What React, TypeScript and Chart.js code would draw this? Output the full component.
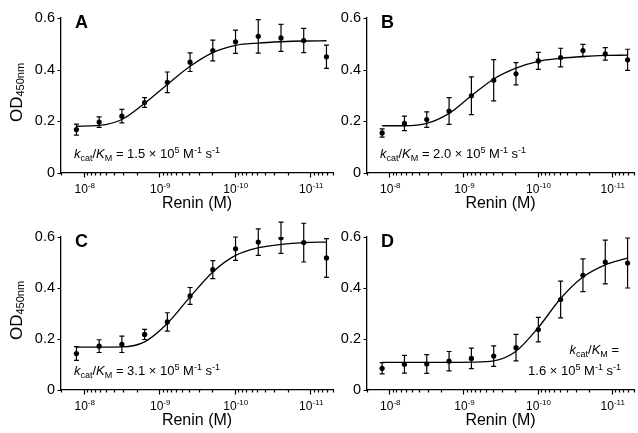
import React, { useEffect, useRef } from 'react';
import { Chart, registerables } from 'chart.js';
Chart.register(...registerables);

// Renin concentration (M), 2-fold dilution series
const reninM = [1.25e-8, 6.25e-9, 3.125e-9, 1.5625e-9, 7.8125e-10, 3.90625e-10, 1.953125e-10, 9.765625e-11, 4.8828125e-11, 2.44140625e-11, 1.220703125e-11, 6.103515625e-12];

// Panel A
const odA = [0.168, 0.197, 0.220, 0.273, 0.351, 0.429, 0.474, 0.508, 0.529, 0.523, 0.513, 0.450];
const errA = [0.021, 0.020, 0.026, 0.019, 0.040, 0.036, 0.040, 0.045, 0.065, 0.052, 0.047, 0.045];
const fitA = [0.181, 0.184, 0.207, 0.270, 0.343, 0.413, 0.466, 0.494, 0.503, 0.508, 0.511, 0.512];
// Panel B
const odB = [0.155, 0.192, 0.207, 0.240, 0.299, 0.359, 0.384, 0.434, 0.447, 0.474, 0.461, 0.438];
const errB = [0.016, 0.028, 0.030, 0.052, 0.073, 0.080, 0.043, 0.033, 0.036, 0.024, 0.024, 0.041];
const fitB = [0.183, 0.183, 0.192, 0.231, 0.299, 0.364, 0.406, 0.432, 0.444, 0.451, 0.455, 0.456];
// Panel C
const odC = [0.143, 0.172, 0.179, 0.218, 0.267, 0.369, 0.472, 0.554, 0.580, 0.597, 0.578, 0.518];
const errC = [0.027, 0.025, 0.032, 0.020, 0.036, 0.033, 0.035, 0.046, 0.052, 0.061, 0.076, 0.076];
const fitC = [0.168, 0.168, 0.169, 0.189, 0.261, 0.365, 0.463, 0.528, 0.558, 0.571, 0.578, 0.580];
// Panel D
const odD = [0.085, 0.101, 0.102, 0.113, 0.124, 0.133, 0.166, 0.237, 0.355, 0.450, 0.502, 0.498];
const errD = [0.022, 0.035, 0.037, 0.038, 0.040, 0.040, 0.052, 0.048, 0.072, 0.064, 0.086, 0.098];
const fitD = [0.108, 0.108, 0.108, 0.108, 0.109, 0.114, 0.152, 0.245, 0.359, 0.443, 0.491, 0.517];

const panelLetters = ['A', 'B', 'C', 'D'];
const kcatKmValues = ['1.5', '2.0', '3.1', '1.6'];

// Axes
const xMin = 5e-12;
const xMax = 2e-8;
const xMajorTicks = [1e-8, 1e-9, 1e-10, 1e-11];
const xMajorExponents = ['-8', '-9', '-10', '-11'];
const xMinorMultipliers = [2, 3, 4, 5, 6, 7, 8, 9];
const xMinorDecades = [1e-12, 1e-11, 1e-10, 1e-9, 1e-8];
const yTicks = [0, 0.2, 0.4, 0.6];
const yTickLabels = ['0', '0.2', '0.4', '0.6'];

const FONT = '"Liberation Sans", Arial, Helvetica, sans-serif';
const INK = '#000';

type Run = { t: string; size: number; italic?: boolean; bold?: boolean; dy?: number };
const fontOf = (r: Run) => `${r.italic ? 'italic ' : ''}${r.bold ? 'bold ' : ''}${r.size}px ${FONT}`;

function drawRuns(ctx: CanvasRenderingContext2D, runs: Run[], x: number, y: number, align: 'left' | 'center' | 'right') {
  let w = 0;
  for (const r of runs) { ctx.font = fontOf(r); w += ctx.measureText(r.t).width; }
  let cx = align === 'left' ? x : align === 'center' ? x - w / 2 : x - w;
  ctx.textAlign = 'left';
  ctx.textBaseline = 'alphabetic';
  for (const r of runs) {
    ctx.font = fontOf(r);
    ctx.fillText(r.t, cx, y + (r.dy || 0));
    cx += ctx.measureText(r.t).width;
  }
}

const kLabelRuns = (): Run[] => [
  { t: 'k', size: 13, italic: true },
  { t: 'cat', size: 9, dy: 3 },
  { t: '/', size: 13 },
  { t: 'K', size: 13, italic: true },
  { t: 'M', size: 9, dy: 3 },
];
const kValueRuns = (v: string): Run[] => [
  { t: `${v} × 10`, size: 13 },
  { t: '5', size: 9, dy: -5 },
  { t: ' M', size: 13 },
  { t: '-1', size: 9, dy: -5 },
  { t: ' s', size: 13 },
  { t: '-1', size: 9, dy: -5 },
];

type Panel = {
  letter: string; od: number[]; err: number[]; fit: number[]; kcat: string;
  left: number; top: number; w: number; h: number; padT: number; padR: number; yW: number; xH: number;
  yTitle: boolean; twoLine: boolean;
};

const panels: Panel[] = [
  { letter: panelLetters[0], od: odA, err: errA, fit: fitA, kcat: kcatKmValues[0], left: 0, top: 0, w: 340, h: 216, padT: 18, padR: 7, yW: 61, xH: 43, yTitle: true, twoLine: false },
  { letter: panelLetters[1], od: odB, err: errB, fit: fitB, kcat: kcatKmValues[1], left: 300, top: 0, w: 338, h: 216, padT: 18, padR: 0, yW: 67, xH: 43, yTitle: false, twoLine: false },
  { letter: panelLetters[2], od: odC, err: errC, fit: fitC, kcat: kcatKmValues[2], left: 0, top: 216, w: 340, h: 217, padT: 21, padR: 7, yW: 61, xH: 43, yTitle: true, twoLine: false },
  { letter: panelLetters[3], od: odD, err: errD, fit: fitD, kcat: kcatKmValues[3], left: 300, top: 216, w: 338, h: 217, padT: 21, padR: 0, yW: 67, xH: 43, yTitle: false, twoLine: true },
];

function buildXTicks() {
  const ticks: { value: number; major: boolean }[] = [];
  for (const d of xMinorDecades) {
    for (const m of xMinorMultipliers) {
      const v = m * d;
      if (v >= xMin && v <= xMax) ticks.push({ value: v, major: false });
    }
  }
  for (const v of xMajorTicks) ticks.push({ value: v, major: true });
  return ticks;
}

function makeDeco(p: Panel) {
  return {
    id: 'deco' + p.letter,
    beforeDatasetsDraw(chart: any) {
      const ctx = chart.ctx as CanvasRenderingContext2D;
      const xs = chart.scales.x, ys = chart.scales.y;
      ctx.save();
      ctx.strokeStyle = INK;
      ctx.lineWidth = 1.2;
      reninM.forEach((c, i) => {
        const x = xs.getPixelForValue(c);
        const y1 = ys.getPixelForValue(p.od[i] - p.err[i]);
        const y2 = ys.getPixelForValue(p.od[i] + p.err[i]);
        ctx.beginPath();
        ctx.moveTo(x, y1); ctx.lineTo(x, y2);
        ctx.moveTo(x - 2.5, y1); ctx.lineTo(x + 2.5, y1);
        ctx.moveTo(x - 2.5, y2); ctx.lineTo(x + 2.5, y2);
        ctx.stroke();
      });
      ctx.restore();
    },
    afterDraw(chart: any) {
      const ctx = chart.ctx as CanvasRenderingContext2D;
      const xs = chart.scales.x, ys = chart.scales.y;
      const a = chart.chartArea;
      ctx.save();
      ctx.strokeStyle = INK;
      ctx.fillStyle = INK;
      ctx.lineWidth = 1.2;
      // x tick marks
      ctx.beginPath();
      for (const t of xs.ticks) {
        const x = Math.round(xs.getPixelForValue(t.value)) + 0.5;
        ctx.moveTo(x, a.bottom);
        ctx.lineTo(x, a.bottom + (t.major ? 4.5 : 2.5));
      }
      // y tick marks
      for (const t of ys.ticks) {
        const y = Math.round(ys.getPixelForValue(t.value)) + 0.5;
        ctx.moveTo(a.left, y);
        ctx.lineTo(a.left - 3.5, y);
      }
      ctx.stroke();
      // x tick labels
      xMajorTicks.forEach((v, i) => {
        const x = xs.getPixelForValue(v);
        drawRuns(ctx, [{ t: '10', size: 12 }, { t: xMajorExponents[i], size: 8, dy: -5 }], x + 1, a.bottom + 20, 'center');
      });
      // x title
      drawRuns(ctx, [{ t: 'Renin (M)', size: 16 }], (a.left + a.right) / 2, a.bottom + 35, 'center');
      // y title
      if (p.yTitle) {
        ctx.save();
        ctx.translate(22, (a.top + a.bottom) / 2 - 3);
        ctx.rotate(-Math.PI / 2);
        drawRuns(ctx, [{ t: 'OD', size: 17 }, { t: '450nm', size: 11, dy: 1.5 }], 0, 0, 'center');
        ctx.restore();
      }
      // panel letter
      drawRuns(ctx, [{ t: p.letter, size: 18, bold: true }], a.left + 14, a.top + 10, 'left');
      // kcat/KM annotation
      if (p.twoLine) {
        drawRuns(ctx, [...kLabelRuns(), { t: ' =', size: 13 }], a.right - 15, a.bottom - 36, 'right');
        drawRuns(ctx, kValueRuns(p.kcat), a.right - 13, a.bottom - 15, 'right');
      } else {
        drawRuns(ctx, [...kLabelRuns(), { t: ' = ', size: 13 }, ...kValueRuns(p.kcat)], a.left + 13, a.bottom - 15, 'left');
      }
      ctx.restore();
    },
  };
}

function PanelChart({ p }: { p: Panel }) {
  const ref = useRef<HTMLCanvasElement | null>(null);
  useEffect(() => {
    if (!ref.current) return;
    const chart = new Chart(ref.current, {
      type: 'scatter',
      data: {
        datasets: [
          {
            label: 'fit',
            data: reninM.map((c, i) => ({ x: c, y: p.fit[i] })),
            showLine: true,
            borderColor: INK,
            borderWidth: 1.3,
            pointRadius: 0,
            cubicInterpolationMode: 'monotone',
            order: 2,
          } as any,
          {
            label: 'OD450',
            data: reninM.map((c, i) => ({ x: c, y: p.od[i] })),
            showLine: false,
            pointRadius: 2.6,
            pointBackgroundColor: INK,
            pointBorderColor: INK,
            pointBorderWidth: 0,
            order: 1,
          } as any,
        ],
      },
      options: {
        responsive: false,
        animation: false,
        events: [],
        layout: { padding: { left: 0, right: p.padR, top: p.padT, bottom: 0 } },
        plugins: { legend: { display: false }, tooltip: { enabled: false }, title: { display: false } },
        scales: {
          x: {
            type: 'logarithmic',
            reverse: true,
            min: xMin,
            max: xMax,
            bounds: 'data',
            afterBuildTicks: (scale: any) => { scale.ticks = buildXTicks(); },
            afterFit: (scale: any) => { scale.height = p.xH; },
            ticks: { display: false },
            grid: { display: false, drawTicks: false },
            border: { display: true, color: INK, width: 1.3 },
          },
          y: {
            type: 'linear',
            min: 0,
            max: 0.6,
            afterBuildTicks: (scale: any) => { scale.ticks = yTicks.map((v) => ({ value: v })); },
            afterFit: (scale: any) => { scale.width = p.yW; },
            ticks: {
              padding: 6,
              color: INK,
              font: { family: FONT, size: 14.5 },
              callback: (_v: any, i: number) => yTickLabels[i],
            },
            grid: { display: false, drawTicks: false },
            border: { display: true, color: INK, width: 1.3 },
          },
        },
      } as any,
      plugins: [makeDeco(p)],
    });
    return () => chart.destroy();
  }, [p]);
  return (
    <canvas
      ref={ref}
      width={p.w}
      height={p.h}
      style={{ position: 'absolute', left: p.left, top: p.top, width: p.w, height: p.h }}
    />
  );
}

export default function App() {
  return (
    <div style={{ position: 'absolute', left: 0, top: 0, width: 638, height: 433, background: '#fff' }}>
      {panels.map((p) => (
        <PanelChart key={p.letter} p={p} />
      ))}
    </div>
  );
}
